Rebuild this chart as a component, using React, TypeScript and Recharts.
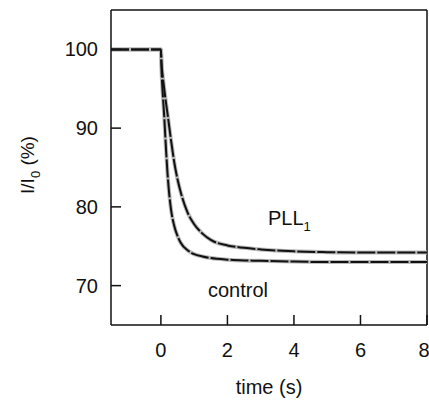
import React from 'react';
import { LineChart, Line, XAxis, YAxis, ReferenceLine } from 'recharts';

// time points (s)
const times = [-1.5, -1, -0.5, 0, 0.02, 0.05, 0.1, 0.15, 0.2, 0.3, 0.4, 0.5, 0.6, 0.8, 1.0, 1.25, 1.5, 2, 2.5, 3, 4, 5, 6, 7, 8];
// I/I0 (%) traces
const control = [100, 100, 100, 100, 97.2, 94.8, 91.5, 87.6, 84.2, 79.8, 77.6, 76.3, 75.4, 74.5, 74.0, 73.7, 73.5, 73.3, 73.2, 73.15, 73.05, 73.0, 73.0, 73.0, 73.0];
const pll1 = [100, 100, 100, 100, 98.2, 96.8, 95.0, 93.3, 91.8, 88.6, 85.7, 83.5, 81.8, 79.3, 77.8, 76.6, 75.8, 75.1, 74.8, 74.6, 74.35, 74.25, 74.2, 74.2, 74.2];

const xTicks = [0, 2, 4, 6, 8];
const yTicks = [70, 80, 90, 100];

const data = times.map((t, i) => ({ t, control: control[i], pll1: pll1[i] }));

const font = 'Liberation Sans, Arial, sans-serif';
const tickStyle = { fontSize: 20, fill: '#111', fontFamily: font };
const frame = { stroke: '#111', strokeWidth: 1.5 };

export default function App() {
    return (
        <div style={{ position: 'absolute', left: 0, top: 0, background: '#fff' }}>
            <LineChart width={429} height={404} data={data} margin={{ top: 10, right: 2, bottom: 0, left: 0 }}>
                <XAxis
                    dataKey="t" type="number" domain={[-1.5, 8]} ticks={xTicks} allowDataOverflow
                    height={79} tickSize={-10} tickMargin={28} tick={tickStyle}
                    axisLine={frame} tickLine={frame}
                    label={{ value: 'time (s)', position: 'insideBottom', offset: 10, style: { fontSize: 20, fill: '#111', fontFamily: font } }}
                />
                <YAxis
                    type="number" domain={[65, 105]} ticks={yTicks} allowDataOverflow
                    width={111} tickSize={-10} tickMargin={23} tick={tickStyle}
                    axisLine={frame} tickLine={frame}
                />
                <ReferenceLine y={105} stroke="#111" strokeWidth={1.5} />
                <ReferenceLine x={8} stroke="#111" strokeWidth={1.5} />
                <Line type="monotone" dataKey="pll1" stroke="#b8b8b8" strokeWidth={4} dot={false} isAnimationActive={false} />
                <Line type="monotone" dataKey="control" stroke="#b8b8b8" strokeWidth={4} dot={false} isAnimationActive={false} />
                <Line type="monotone" dataKey="pll1" stroke="#111" strokeWidth={2} strokeDasharray="18 2" dot={false} isAnimationActive={false} />
                <Line type="monotone" dataKey="control" stroke="#111" strokeWidth={2} strokeDasharray="18 2" dot={false} isAnimationActive={false} />
                <text x={268} y={225} fontSize={20} fill="#111" fontFamily={font}>
                    PLL<tspan fontSize={13} dy={6}>1</tspan>
                </text>
                <text x={208} y={297} fontSize={20} fill="#111" fontFamily={font}>control</text>
                <text transform="translate(34,165) rotate(-90)" textAnchor="middle" fontSize={19} fill="#111" fontFamily={font}>
                    I/I<tspan fontSize={13} dy={6}>0</tspan><tspan dy={-6}> (%)</tspan>
                </text>
            </LineChart>
        </div>
    );
}
